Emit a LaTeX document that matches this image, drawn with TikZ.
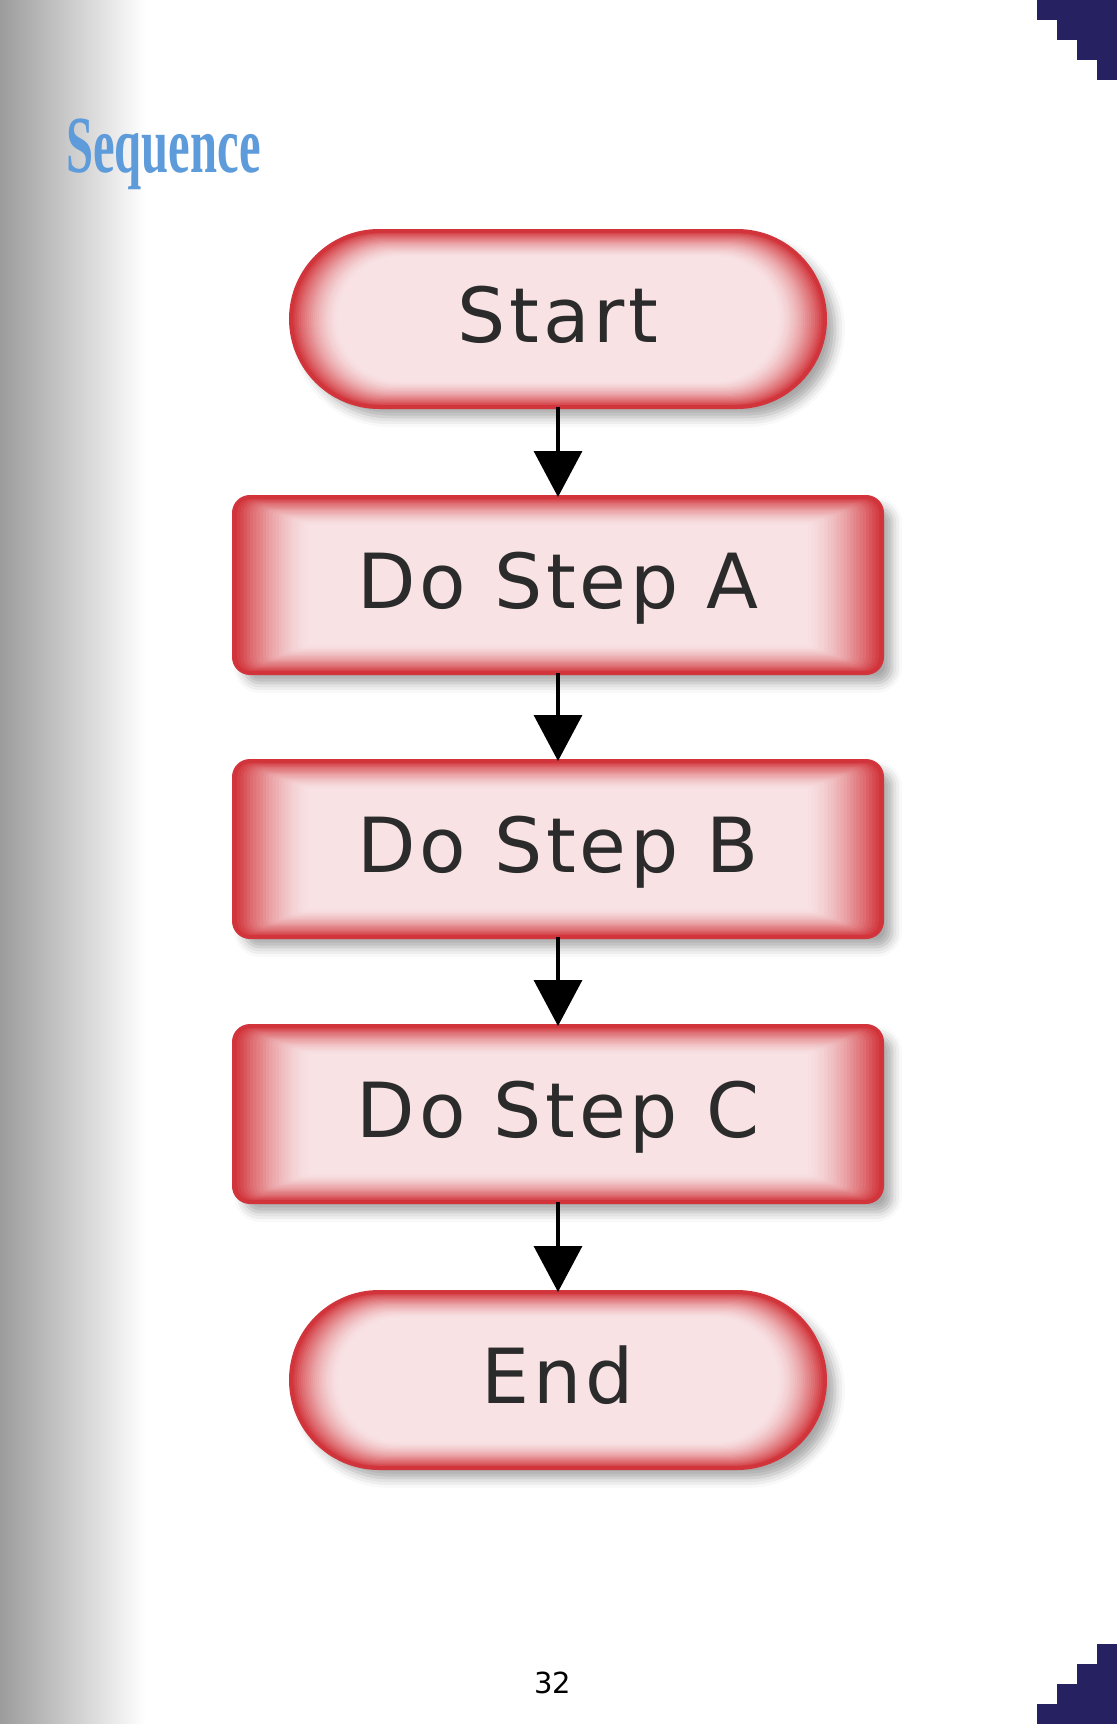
\documentclass[tikz,border=0pt]{standalone}
\usepackage{fontspec}
\setmainfont{DejaVu Sans}
\newfontfamily\labelfont[LetterSpace=5]{DejaVu Sans}
\newfontfamily\titlefont[FakeStretch=0.6]{Liberation Serif}
\usetikzlibrary{arrows.meta,calc,backgrounds,shadows.blur}
\definecolor{boxred}{HTML}{D1343A}
\definecolor{boxpink}{HTML}{F8E2E4}
\definecolor{cornerblue}{HTML}{262262}
\definecolor{titleblue}{HTML}{5E9BDA}
\definecolor{labelgrey}{HTML}{2B2B2B}
\newcommand{\glowsteps}{24}
% inner red glow of a box: node, x step, y step, corner radius
\newcommand{\glowfill}[4]{%
  \fill[boxred, rounded corners=#4pt,
    blur shadow={shadow xshift=10pt, shadow yshift=-10pt, shadow blur radius=10pt, shadow opacity=35}]
    (#1.north west) rectangle (#1.south east);
  \foreach \i in {1,...,\glowsteps}{
    \pgfmathtruncatemacro\redpart{100*(1-\i/\glowsteps)^1.6}
    \pgfmathsetmacro\rad{max(#4-\i*#3,3)}
    \fill[boxred!\redpart!boxpink, rounded corners=\rad pt]
      ($(#1.north west)+(\i*#2,\i*#3)$) rectangle ($(#1.south east)-(\i*#2,\i*#3)$);
  }
}

\begin{document}
\begin{tikzpicture}[x=1pt,y=-1pt,
    terminal/.style={rectangle, rounded corners=88pt, draw=boxred, line width=4pt,
      minimum width=534pt, minimum height=176pt, inner sep=0pt, outer sep=0pt,
      text height=55pt, text depth=8pt, text=labelgrey, font=\labelfont\fontsize{76}{90}\selectfont},
    stepbox/.style={terminal, rounded corners=16pt, minimum width=648pt},
    flowarrow/.style={line width=3.5pt, -{Triangle[width=48pt,length=46pt]}}]

  \useasboundingbox (0,0) rectangle (1117,1724);

  % page corners
  \foreach \k in {0,...,3}{
    \fill[cornerblue] (1037+20*\k,20*\k) rectangle (1117,20*\k+20);
    \fill[cornerblue] (1037+20*\k,1704-20*\k) rectangle (1117,1724-20*\k);
  }

  \node (title) at (66,172) [anchor=base west, inner sep=0pt, text=titleblue,
    font=\titlefont\bfseries\fontsize{81}{90}\selectfont] {Sequence};

  \node (start) at (558,319) [terminal] {Start};
  \node (stepA) at (558,585) [stepbox] {Do Step A};
  \node (stepB) at (558,849) [stepbox] {Do Step B};
  \node (stepC) at (558,1114) [stepbox] {Do Step C};
  \node (stop) at (558,1380) [terminal] {End};

  \foreach \a/\b in {start/stepA, stepA/stepB, stepB/stepC, stepC/stop}
    \draw[flowarrow] (\a) -- (\b);

  \node (pagenum) at (553,1693) [anchor=base, inner sep=0pt, font=\fontsize{29}{34}\selectfont] {32};

  \begin{scope}[on background layer]
    \shade[left color=black!39, right color=white] (0,0) rectangle (145,1724);
    \glowfill{start}{2.0}{1.1}{88}
    \glowfill{stepA}{3.2}{1.2}{16}
    \glowfill{stepB}{3.2}{1.2}{16}
    \glowfill{stepC}{3.2}{1.2}{16}
    \glowfill{stop}{2.0}{1.1}{88}
  \end{scope}
\end{tikzpicture}
\end{document}
